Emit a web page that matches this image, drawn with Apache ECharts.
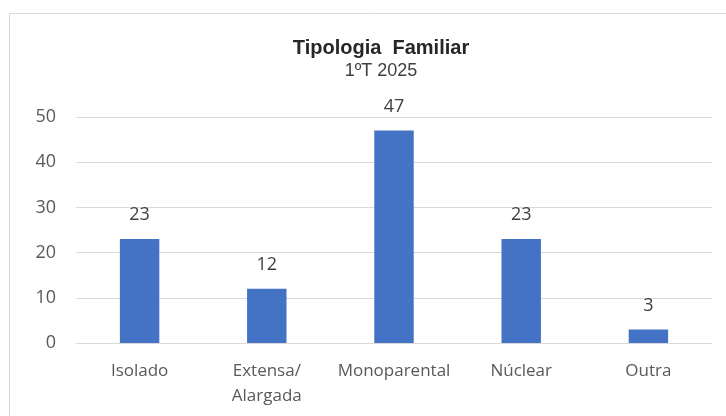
<!DOCTYPE html>
<html><head><meta charset="utf-8">
<script src="https://cdn.jsdelivr.net/npm/echarts@6/dist/echarts.min.js"></script>
<style>html,body{margin:0;padding:0;background:#fff}#c{width:726px;height:416px}</style>
</head><body><div id="c"></div>
<script>
const categories = ['Isolado', 'Extensa/\nAlargada', 'Monoparental', 'Núclear', 'Outra'];
const values = [23, 12, 47, 23, 3];
const yTicks = { min: 0, max: 50, interval: 10 };

const chart = echarts.init(document.getElementById('c'), null, { renderer: 'canvas' });
chart.setOption({
  animation: false,
  backgroundColor: '#fff',
  graphic: [{
    type: 'rect', shape: { x: 9.5, y: 13.5, width: 800, height: 500 },
    style: { fill: 'none', stroke: '#d9d9d9', lineWidth: 1 }, z: -1
  }],
  title: {
    text: 'Tipologia  Familiar', subtext: '1ºT 2025', left: 376, textAlign: 'center', top: 33, itemGap: 4,
    textStyle: { fontFamily: 'Liberation Sans', fontSize: 20, fontWeight: 'bold', color: '#262626' },
    subtextStyle: { fontFamily: 'Liberation Sans', fontSize: 18, color: '#404040' }
  },
  grid: { left: 76, right: 14, top: 117, bottom: 73, containLabel: false },
  xAxis: {
    type: 'category', data: categories,
    axisLine: { lineStyle: { color: '#d9d9d9' } },
    axisTick: { show: false },
    axisLabel: { color: '#595959', fontFamily: 'Open Sans', fontSize: 17, margin: 16, lineHeight: 25, interval: 0 }
  },
  yAxis: {
    type: 'value', min: yTicks.min, max: yTicks.max, interval: yTicks.interval,
    axisLine: { show: false }, axisTick: { show: false },
    splitLine: { lineStyle: { color: '#d9d9d9' } },
    axisLabel: { color: '#595959', fontFamily: 'Open Sans', fontSize: 18, margin: 20 }
  },
  series: [{
    type: 'bar', data: values, barWidth: '31%',
    itemStyle: { color: '#4472C4' },
    label: { show: true, position: 'top', distance: 15, color: '#404040', fontFamily: 'Open Sans', fontSize: 18 }
  }]
});
</script></body></html>
